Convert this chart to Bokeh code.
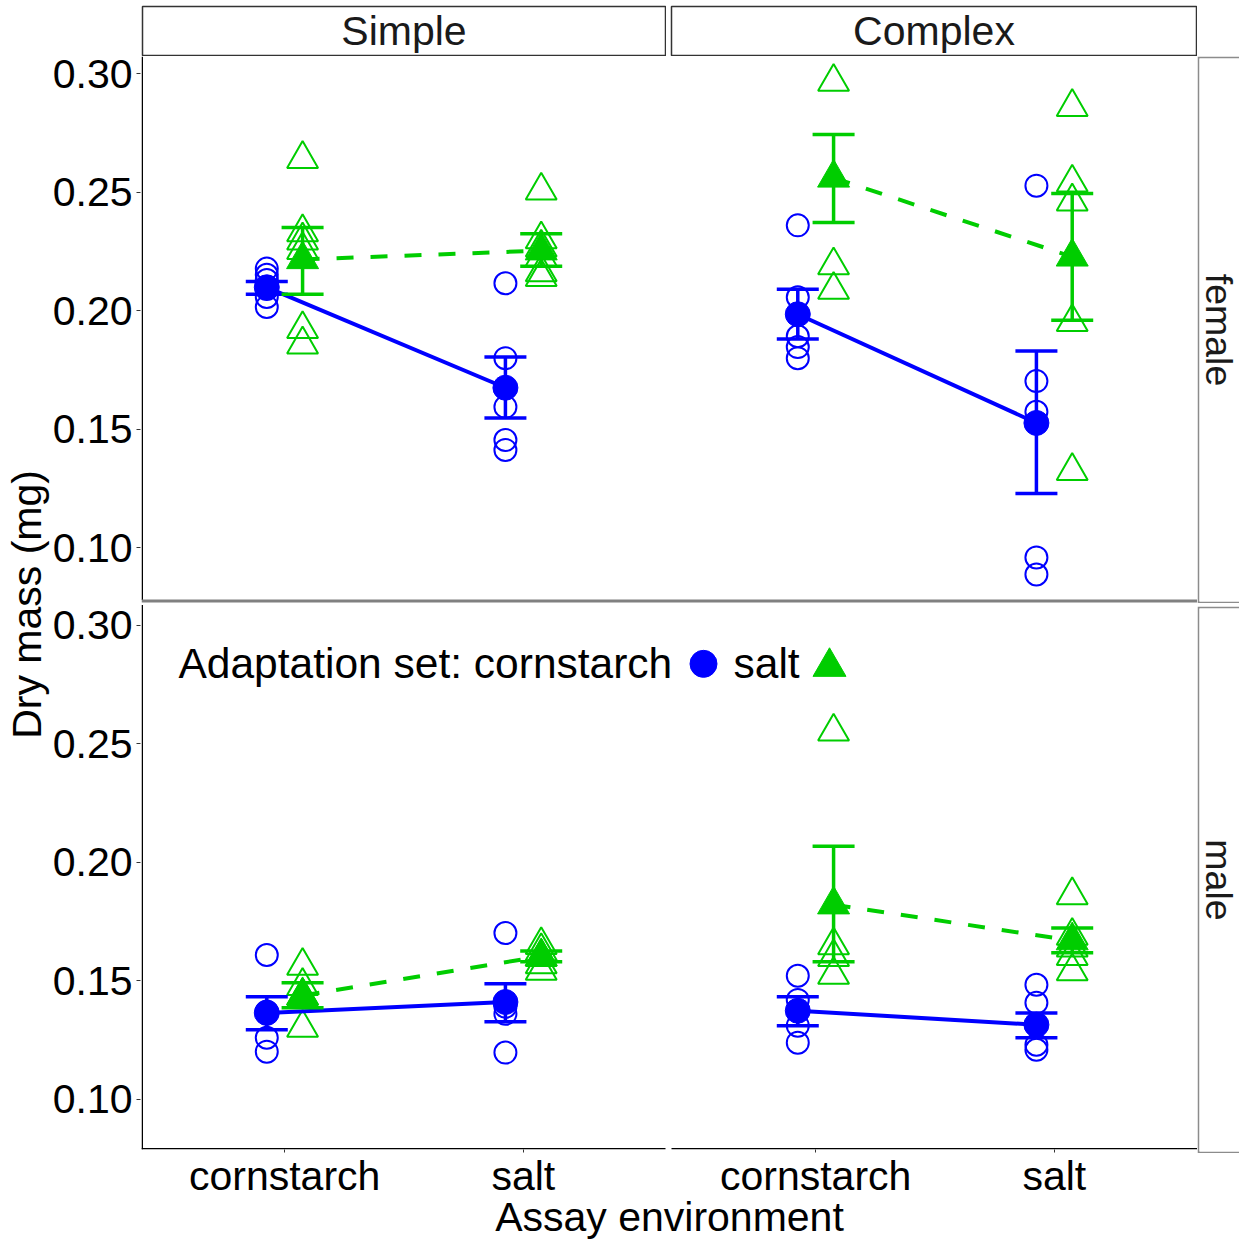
import math
from bokeh.plotting import figure
from bokeh.models import Range1d, FixedTicker, CustomJSTickFormatter, Span, Label, Spacer
from bokeh.layouts import row, column
from bokeh.core.properties import value
from bokeh.embed import file_html
from bokeh.resources import INLINE

# ---------------- data ----------------
complexity = ["Simple", "Complex"]          # column facets
sexes = ["female", "male"]                  # row facets
assay_env = ["cornstarch", "salt"]          # x categories
adaptation = ["cornstarch", "salt"]         # colour / shape groups

# raw dry mass (mg): sex_complexity_adaptation_assay
f_S_corn_corn = [0.2176, 0.2150, 0.2128, 0.2090, 0.2056, 0.2014]
f_S_corn_salt = [0.2114, 0.1797, 0.1591, 0.1451, 0.1409]
f_S_salt_corn = [0.2640, 0.2330, 0.2295, 0.2255, 0.1920, 0.1855]
f_S_salt_salt = [0.2506, 0.2300, 0.2265, 0.2225, 0.2160, 0.2140]
f_C_corn_corn = [0.2359, 0.2055, 0.1890, 0.1844, 0.1797]
f_C_corn_salt = [0.2527, 0.1700, 0.1570, 0.0954, 0.0882]
f_C_salt_corn = [0.2966, 0.2190, 0.2086]
f_C_salt_salt = [0.2860, 0.2540, 0.2460, 0.1950, 0.1320]
m_S_corn_corn = [0.1599, 0.1360, 0.1249, 0.1190]
m_S_corn_salt = [0.1692, 0.1380, 0.1350, 0.1186]
m_S_salt_corn = [0.1553, 0.1468, 0.1425, 0.1291]
m_S_salt_salt = [0.1641, 0.1615, 0.1590, 0.1560, 0.1532]
m_C_corn_corn = [0.1511, 0.1409, 0.1300, 0.1228]
m_C_corn_salt = [0.1473, 0.1397, 0.1219, 0.1198]
m_C_salt_corn = [0.2544, 0.1640, 0.1590, 0.1515]
m_C_salt_salt = [0.1852, 0.1680, 0.1630, 0.1595, 0.1530]

# group order: sex > complexity > adaptation > assay environment
mean_mass = [0.2097, 0.1672, 0.2215, 0.2252,
             0.1983, 0.1523, 0.2560, 0.2226,
             0.1354, 0.1400, 0.1428, 0.1593,
             0.1363, 0.1304, 0.1812, 0.1660]
se_low = [0.2068, 0.1544, 0.2068, 0.2186,
          0.1878, 0.1224, 0.2371, 0.1958,
          0.1283, 0.1316, 0.1376, 0.1570,
          0.1300, 0.1249, 0.1570, 0.1608]
se_high = [0.2122, 0.1802, 0.2350, 0.2324,
           0.2089, 0.1827, 0.2743, 0.2494,
           0.1422, 0.1477, 0.1481, 0.1616,
           0.1422, 0.1354, 0.2059, 0.1713]
y_ticks = [0.10, 0.15, 0.20, 0.25, 0.30]

raw_lists = [f_S_corn_corn, f_S_corn_salt, f_S_salt_corn, f_S_salt_salt,
             f_C_corn_corn, f_C_corn_salt, f_C_salt_corn, f_C_salt_salt,
             m_S_corn_corn, m_S_corn_salt, m_S_salt_corn, m_S_salt_salt,
             m_C_corn_corn, m_C_corn_salt, m_C_salt_corn, m_C_salt_salt]

# ---------------- geometry ----------------
FONT = "Liberation Sans"
FS = "41px"
BLUE = "#0000FF"
GREEN = "#00CD00"
GRAY = "#8c8c8c"

LEFT = 141
FRAME_W = 1056
FRAME_H = 1096
TOP = 56
panel_w_px = 525.0
gap_w_px = 6.0
px_per_x = panel_w_px / 2.2
x_lo = 0.4
x_hi = x_lo + FRAME_W / px_per_x
x_panel_off = 2.2 + gap_w_px / px_per_x
dodge = 0.075
cap_half = 21.0 / px_per_x

px_per_y = 2370.0
y_lo = 0.0776
panel_h_px = 545.5
y_hi = y_lo + panel_h_px / px_per_y
y_off = (panel_h_px + 6.0) / px_per_y
y_top = y_lo + FRAME_H / px_per_y
FRAME_BOTTOM = TOP + FRAME_H


def px_to_x(px):
    return x_lo + (px - LEFT) / px_per_x


def px_to_y(py):
    return y_lo + (FRAME_BOTTOM - py) / px_per_y


groups = [(s, c, a, e) for s in range(2) for c in range(2) for a in range(2) for e in range(2)]


def gx(c, a, e):
    return 1 + e + c * x_panel_off + (a - 0.5) * 2 * dodge


def gy(s, v):
    return v + (y_off if s == 0 else 0.0)


yr = Range1d(y_lo, y_top)

# ---------------- main panels figure ----------------
p = figure(width=FRAME_W, height=FRAME_H + 90,
           x_range=Range1d(x_lo, x_hi), y_range=yr, y_axis_location=None,
           min_border_left=0, min_border_right=0, min_border_top=0, min_border_bottom=90,
           toolbar_location=None, output_backend="svg", title=None,
           outline_line_color=None, background_fill_color="white", border_fill_color="white")
p.grid.visible = False

# panel axis lines (left of each facet row, bottom of each facet column)
p.segment(x0=[px_to_x(141.75)] * 2, x1=[px_to_x(141.75)] * 2,
          y0=[px_to_y(56), px_to_y(606)], y1=[px_to_y(601), px_to_y(1152)],
          line_color="black", line_width=1.5)
p.segment(x0=[px_to_x(141), px_to_x(671)], x1=[px_to_x(665), px_to_x(1197)],
          y0=[px_to_y(1151.25)] * 2, y1=[px_to_y(1151.25)] * 2,
          line_color="black", line_width=1.5)

# raw points
for a, (marker, col, sz) in enumerate([("circle", BLUE, 22), ("triangle", GREEN, 31)]):
    xs, ys = [], []
    for k, (s, c, aa, e) in enumerate(groups):
        if aa != a:
            continue
        for v in raw_lists[k]:
            xs.append(gx(c, aa, e))
            ys.append(gy(s, v))
    p.scatter(xs, ys, marker=marker, size=sz, fill_color=None, line_color=col, line_width=2)

# mean lines
for a, (col, dash) in enumerate([(BLUE, "solid"), (GREEN, "17 17")]):
    for s in range(2):
        for c in range(2):
            xs, ys = [], []
            for k, (ss, cc, aa, e) in enumerate(groups):
                if ss == s and cc == c and aa == a:
                    xs.append(gx(c, a, e))
                    ys.append(gy(s, mean_mass[k]))
            p.line(xs, ys, line_color=col, line_width=4, line_dash=dash)

# error bars
for a, col in enumerate([BLUE, GREEN]):
    x0, y0, y1 = [], [], []
    for k, (s, c, aa, e) in enumerate(groups):
        if aa != a:
            continue
        x0.append(gx(c, aa, e))
        y0.append(gy(s, se_low[k]))
        y1.append(gy(s, se_high[k]))
    p.segment(x0=x0, y0=y0, x1=x0, y1=y1, line_color=col, line_width=3.5)
    p.segment(x0=[x - cap_half for x in x0], y0=y0, x1=[x + cap_half for x in x0], y1=y0,
              line_color=col, line_width=3.5)
    p.segment(x0=[x - cap_half for x in x0], y0=y1, x1=[x + cap_half for x in x0], y1=y1,
              line_color=col, line_width=3.5)

# means
for a, (marker, col, sz) in enumerate([("circle", BLUE, 25), ("triangle", GREEN, 32)]):
    xs, ys = [], []
    for k, (s, c, aa, e) in enumerate(groups):
        if aa == a:
            xs.append(gx(c, aa, e))
            ys.append(gy(s, mean_mass[k]))
    p.scatter(xs, ys, marker=marker, size=sz, fill_color=col, line_color=col, line_width=1)

# separator band between facet rows
p.add_layout(Span(location=px_to_y(602), dimension="width", line_color="#808080", line_width=3))

# x axis
xticks = [1 + e + c * x_panel_off for c in range(2) for e in range(2)]
xlabels = [assay_env[e] for c in range(2) for e in range(2)]
xa = p.xaxis[0]
xa.ticker = FixedTicker(ticks=xticks, minor_ticks=[])
xa.formatter = CustomJSTickFormatter(args=dict(xt=xticks, xl=xlabels), code="""
    const i = xt.findIndex(t => Math.abs(t - tick) < 1e-6);
    return i >= 0 ? xl[i] : "";
""")
xa.axis_line_color = None
xa.major_tick_line_color = "#333333"
xa.major_tick_out = 3
xa.major_tick_in = 0
xa.minor_tick_out = 0
xa.minor_tick_in = 0
xa.major_label_standoff = 0
xa.major_label_text_font = FONT
xa.major_label_text_font_size = FS
xa.major_label_text_color = "black"
xa.axis_label = "Assay environment"
xa.axis_label_standoff = -8
xa.axis_label_text_font = FONT
xa.axis_label_text_font_size = FS
xa.axis_label_text_font_style = "normal"
xa.axis_label_text_color = "black"

# legend (inside bottom-left panel)
LFS = "42.5px"
p.add_layout(Label(x=px_to_x(178), y=px_to_y(665), text="Adaptation set: " + adaptation[0],
                   text_align="left", text_baseline="middle",
                   text_font=FONT, text_font_size=LFS, text_color="black"))
p.add_layout(Label(x=px_to_x(733), y=px_to_y(665), text=adaptation[1],
                   text_align="left", text_baseline="middle",
                   text_font=FONT, text_font_size=LFS, text_color="black"))
p.scatter([px_to_x(703)], [px_to_y(665)], marker="circle", size=27, fill_color=BLUE, line_color=BLUE)
p.scatter([px_to_x(829)], [px_to_y(668)], marker="triangle", size=33, fill_color=GREEN, line_color=GREEN)

# ---------------- y axis figure (shares the y range) ----------------
ya_fig = figure(width=LEFT, height=TOP + FRAME_H + 90, x_range=Range1d(0, 1), y_range=yr,
                x_axis_type=None, min_border_left=LEFT - 1, min_border_right=0,
                min_border_top=TOP, min_border_bottom=90,
                toolbar_location=None, output_backend="svg", title=None,
                outline_line_color=None, background_fill_color="white", border_fill_color="white")
ya_fig.grid.visible = False
ya = ya_fig.yaxis[0]
yt = [t for t in y_ticks] + [t + y_off for t in y_ticks]
ya.ticker = FixedTicker(ticks=yt, minor_ticks=[])
ya.formatter = CustomJSTickFormatter(args=dict(off=y_off, split=y_hi + 0.001), code="""
    const v = tick > split ? tick - off : tick;
    return v.toFixed(2);
""")
ya.axis_line_color = None
ya.major_tick_line_color = "#333333"
ya.major_tick_out = 4
ya.major_tick_in = 0
ya.minor_tick_out = 0
ya.minor_tick_in = 0
ya.major_label_standoff = 4
ya.major_label_text_font = FONT
ya.major_label_text_font_size = FS
ya.major_label_text_color = "black"
ya.axis_label = "Dry mass (mg)"
ya.axis_label_standoff = 0
ya.axis_label_text_font = FONT
ya.axis_label_text_font_size = FS
ya.axis_label_text_font_style = "normal"
ya.axis_label_text_color = "black"


# ---------------- strips ----------------
def strip(w, h, label, angle, mbl, mbr, mbt, mbb, outline, border_fill, fs=FS, tx=0.5):
    f = figure(width=w, height=h, x_range=Range1d(0, 1), y_range=Range1d(0, 1),
               x_axis_type=None, y_axis_type=None, toolbar_location=None,
               output_backend="svg", title=None,
               min_border_left=mbl, min_border_right=mbr, min_border_top=mbt, min_border_bottom=mbb,
               background_fill_color="white", border_fill_color=border_fill)
    if outline:
        f.outline_line_color = "#333333"
        f.outline_line_width = 1.5
    else:
        f.outline_line_color = None
    if label:
        f.text(x=[tx], y=[0.5], text=[label], angle=angle, text_align="center",
               text_baseline="middle", text_font=value(FONT), text_font_size=fs,
               text_color="#1a1a1a")
    return f


strip_s = strip(525, 56, complexity[0], 0, 1, 1, 6, 1, True, "white")
strip_c = strip(527, 56, complexity[1], 0, 1, 1, 6, 1, True, "white")
strip_f = strip(42, 547, sexes[0], -math.pi / 2, 2, 0, 2, 2, False, GRAY, fs="37.5px", tx=0.475)
strip_m = strip(42, 547, sexes[1], -math.pi / 2, 2, 0, 2, 2, False, GRAY, fs="37.5px", tx=0.475)

top_row = row(strip_s, Spacer(width=4, height=56), strip_c, Spacer(width=42, height=56))
right_col = column(strip_f, Spacer(width=42, height=3), strip_m)
panels_row = row(p, right_col)
root = row(ya_fig, column(top_row, panels_row))

open("out.html", "w").write(file_html(root, INLINE))
